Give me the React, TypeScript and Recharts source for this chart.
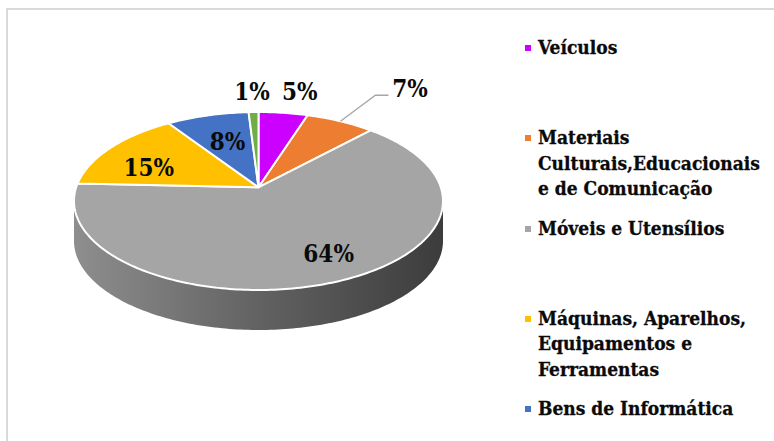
import React from 'react';
import { PieChart, Pie, Cell, Legend } from 'recharts';

const categories = [
  'Veículos',
  'Materiais Culturais,Educacionais e de Comunicação',
  'Móveis e Utensílios',
  'Máquinas, Aparelhos, Equipamentos e Ferramentas',
  'Bens de Informática',
  '',
];
const values = [5, 7, 63.7, 14.9, 8.4, 1];
const colors = ['#cc00ff', '#ed7d31', '#a5a5a5', '#ffc000', '#4472c4', '#70ad47'];
const labelOffsets = [
  [16.5, -21],
  [69.6, -32.3],
  [-10, -28],
  [38, 20],
  [20, 26],
  [-1.5, -21],
];

const data = categories.map((name, i) => ({ name, value: values[i] }));

const FONT = '"DejaVu Serif Condensed", "DejaVu Serif", serif';
const SQUASH = 0.4824;
const TILT = 0.154;
const DEPTH = 40;
const RAD = Math.PI / 180;

// recharts angle -> position on the rim, seen in perspective
function rim(angle: number, cx: number, cy: number, r: number) {
  const a = (90 - angle) * RAD;
  const u = Math.sin(a);
  const v = Math.cos(a);
  const den = 1 + TILT * v;
  const vp = (v + TILT) / den;
  const up = (u * Math.sqrt(1 - TILT * TILT)) / den;
  return { x: cx + r * up, y: cy - r * SQUASH * vp };
}
const apex = (cx: number, cy: number, r: number) => ({ x: cx, y: cy - r * SQUASH * TILT });

function PerspectiveSlice(props: any) {
  const { cx, cy, outerRadius: r, startAngle, endAngle, fill } = props;
  const steps = Math.max(4, Math.ceil(Math.abs(endAngle - startAngle)));
  const arc: { x: number; y: number }[] = [];
  for (let i = 0; i <= steps; i++) {
    arc.push(rim(startAngle + ((endAngle - startAngle) * i) / steps, cx, cy, r));
  }
  const c = apex(cx, cy, r);
  const top = `M${c.x},${c.y}L` + arc.map((p) => `${p.x},${p.y}`).join('L') + 'Z';
  const front = arc.filter((p) => p.y >= cy);
  let side = '';
  if (front.length > 1) {
    const first = front[0];
    const last = front[front.length - 1];
    const a = [...front];
    // extend to exact horizontal extremes when the slice wraps the whole front
    if (first.x > cx) a.unshift({ x: cx + r, y: cy });
    if (last.x < cx) a.push({ x: cx - r, y: cy });
    side =
      'M' + a.map((p) => `${p.x},${p.y}`).join('L') +
      'L' + [...a].reverse().map((p) => `${p.x},${p.y + DEPTH}`).join('L') + 'Z';
  }
  return (
    <g>
      {side && <path d={side} fill="url(#sideShade)" stroke="none" />}
      <path d={top} fill={fill} stroke="#ffffff" strokeWidth={2} strokeLinejoin="round" />
    </g>
  );
}

function SliceLabel(props: any) {
  const { cx, cy, outerRadius: r, midAngle, index, value } = props;
  const e = rim(midAngle, cx, cy, r);
  const [dx, dy] = labelOffsets[index];
  return (
    <g>
      {index === 1 && (
        <polyline
          points={`${e.x},${e.y} ${e.x + 35},${e.y - 26} ${e.x + 48},${e.y - 26}`}
          fill="none"
          stroke="#a6a6a6"
          strokeWidth={1.3}
        />
      )}
      <text
        x={e.x + dx}
        y={e.y + dy}
        textAnchor="middle"
        dominantBaseline="central"
        fontFamily={FONT}
        fontWeight="bold"
        fontSize={24}
        fill="#0a0a0a"
      >
        {`${Math.round(value)}%`}
      </text>
    </g>
  );
}

function SideLegend({ payload }: any) {
  const items = (payload || []).filter((p: any) => p.value);
  return (
    <div style={{ position: 'relative', width: 228 }}>
      {items.map((p: any, i: number) => (
        <div
          key={p.value}
          style={{
            position: 'absolute',
            top: i * 90.3,
            left: 0,
            width: 228,
            fontFamily: FONT,
            fontWeight: 'bold',
            fontSize: 19,
            lineHeight: '25.5px',
            color: '#0a0a0a',
            WebkitTextStroke: '0.3px #0a0a0a',
          }}
        >
          <span
            style={{
              position: 'absolute',
              left: -13,
              top: 10,
              width: 6,
              height: 6,
              background: p.color,
            }}
          />
          {p.value}
        </div>
      ))}
    </div>
  );
}

export default function App() {
  return (
    <div
      style={{
        position: 'absolute',
        left: 0,
        top: 0,
        width: 774,
        height: 441,
        overflow: 'hidden',
        background: '#ffffff',
      }}
    >
      <div
        style={{
          position: 'absolute',
          left: 6,
          top: 8,
          width: 800,
          height: 480,
          border: '2px solid #d9d9d9',
        }}
      />
      <PieChart width={774} height={441} margin={{ top: 0, right: 0, bottom: 0, left: 0 }}>
        <defs>
          <linearGradient id="sideShade" gradientUnits="userSpaceOnUse" x1={74} y1={0} x2={443} y2={0}>
            <stop offset="0%" stopColor="#8e8e8e" />
            <stop offset="50%" stopColor="#626262" />
            <stop offset="100%" stopColor="#3c3c3c" />
          </linearGradient>
        </defs>
        <Pie
          data={data}
          dataKey="value"
          nameKey="name"
          cx={258.5}
          cy={201}
          outerRadius={184.5}
          startAngle={90}
          endAngle={-270}
          stroke="#ffffff"
          shape={PerspectiveSlice}
          label={SliceLabel}
          labelLine={false}
          isAnimationActive={false}
        >
          {data.map((d, i) => (
            <Cell key={i} fill={colors[i]} />
          ))}
        </Pie>
        <Legend
          content={<SideLegend />}
          itemSorter={null}
          wrapperStyle={{ position: 'absolute', left: 538, top: 35, width: 228, height: 0 }}
        />
      </PieChart>
    </div>
  );
}
